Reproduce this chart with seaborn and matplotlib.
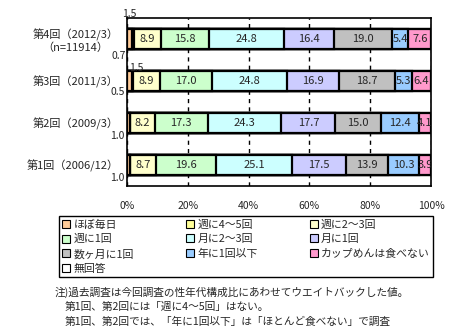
import matplotlib
matplotlib.use('Agg')
import matplotlib.pyplot as plt
import seaborn as sns
import numpy as np
from matplotlib.patches import Patch

rounds = ['第4回（2012/3）\n（n=11914）', '第3回（2011/3）', '第2回（2009/3）', '第1回（2006/12）']
categories = ['ほぼ毎日', '週に4～5回', '週に2～3回', '週に1回', '月に2～3回',
              '月に1回', '数ヶ月に1回', '年に1回以下', 'カップめんは食べない', '無回答']
almost_daily = [1.5, 1.5, 1.0, 1.0]
week_4_5 = [0.7, 0.5, 0.0, 0.0]
week_2_3 = [8.9, 8.9, 8.2, 8.7]
week_1 = [15.8, 17.0, 17.3, 19.6]
month_2_3 = [24.8, 24.8, 24.3, 25.1]
month_1 = [16.4, 16.9, 17.7, 17.5]
few_months = [19.0, 18.7, 15.0, 13.9]
year_or_less = [5.4, 5.3, 12.4, 10.3]
never = [7.6, 6.4, 4.1, 3.9]
no_answer = [0.0, 0.0, 0.0, 0.0]
series = [almost_daily, week_4_5, week_2_3, week_1, month_2_3, month_1,
          few_months, year_or_less, never, no_answer]
colors = ['#FFCC99', '#FFFF99', '#FFFFCC', '#CCFFCC', '#CCFFFF', '#CCCCFF',
          '#C0C0C0', '#99CCFF', '#FF99CC', '#FFFFFF']
xticks = [0, 20, 40, 60, 80, 100]
xticklabels = ['0%', '20%', '40%', '60%', '80%', '100%']
notes = ['注)過去調査は今回調査の性年代構成比にあわせてウエイトバックした値。',
         '第1回、第2回には「週に4～5回」はない。',
         '第1回、第2回では、「年に1回以下」は「ほとんど食べない」で調査']

sns.set_style('white')
plt.rcParams['font.family'] = ['Noto Sans CJK JP', 'DejaVu Sans']

W, H = 468, 336
fig = plt.figure(figsize=(W / 100, H / 100), dpi=100)
ax = fig.add_axes([127 / W, 1 - 186 / H, (431 - 127) / W, (186 - 18) / H])

arr = np.array(series)
cum = np.cumsum(arr, axis=0)
for i in reversed(range(len(series))):
    sns.barplot(x=list(cum[i]), y=rounds, color=colors[i], orient='h', width=0.48,
                edgecolor='black', linewidth=1.6, saturation=1, ax=ax, zorder=3)

# value labels
for i in range(len(series)):
    for r in range(len(rounds)):
        v = arr[i, r]
        if v >= 3:
            ax.text(cum[i, r] - v / 2, r, f'{v:.1f}', ha='center', va='center',
                    fontsize=8, zorder=5)
# small segment labels
small = [(0, 0, 0.7, -0.6, 'center'), (1, 0, -0.5, 0.41, 'right'),
         (0, 1, 3.0, 1 - 0.31, 'center'), (1, 1, -0.8, 1.27, 'right'),
         (0, 2, -0.8, 2.31, 'right'), (0, 3, -0.8, 3.31, 'right')]
for i, r, x, y, ha in small:
    ax.text(x, y, f'{arr[i, r]:.1f}', ha=ha, va='center', fontsize=7.5, zorder=5,
            clip_on=False)

ax.set_xlim(0, 100)
ax.set_ylim(3.5, -0.5)
ax.set_xticks(xticks)
ax.set_xticklabels(xticklabels, fontsize=7.5)
ax.tick_params(axis='x', length=0, pad=11)
ax.set_yticks(range(len(rounds)))
ax.set_yticklabels(rounds, fontsize=8, multialignment='center')
ax.tick_params(axis='y', which='major', length=0, pad=6)
ax.set_yticks([-0.5, 0.5, 1.5, 2.5, 3.5], minor=True)
ax.tick_params(axis='y', which='minor', direction='in', length=3, width=1, color='black')
ax.set_xlabel('')
ax.set_ylabel('')
ax.xaxis.grid(True, color='black', linestyle=(0, (3, 3)), linewidth=1)
ax.yaxis.grid(False)
ax.set_axisbelow(True)
for s in ax.spines.values():
    s.set_color('black')
    s.set_linewidth(1.2)

handles = [Patch(facecolor=c, edgecolor='black', linewidth=0.8) for c in colors]
order = [0, 3, 6, 9, 1, 4, 7, 2, 5, 8]
leg = fig.legend([handles[k] for k in order], [categories[k] for k in order],
                 loc='upper left',
                 bbox_to_anchor=(59 / W, 1 - 277 / H, (433 - 59) / W, (277 - 216) / H),
                 mode='expand', ncol=3, fancybox=False, edgecolor='black',
                 framealpha=1, borderaxespad=0, handlelength=0.75, handleheight=0.75,
                 handletextpad=0.3, labelspacing=0.42, borderpad=0.3,
                 columnspacing=1.0, fontsize=7.8)
leg.get_frame().set_linewidth(1.0)

fig.text(55 / W, 1 - 292 / H, notes[0], fontsize=7.7, va='center', ha='left')
fig.text(65 / W, 1 - 307 / H, notes[1], fontsize=7.7, va='center', ha='left')
fig.text(65 / W, 1 - 322 / H, notes[2], fontsize=7.7, va='center', ha='left')

fig.savefig('out.png', dpi=100)
